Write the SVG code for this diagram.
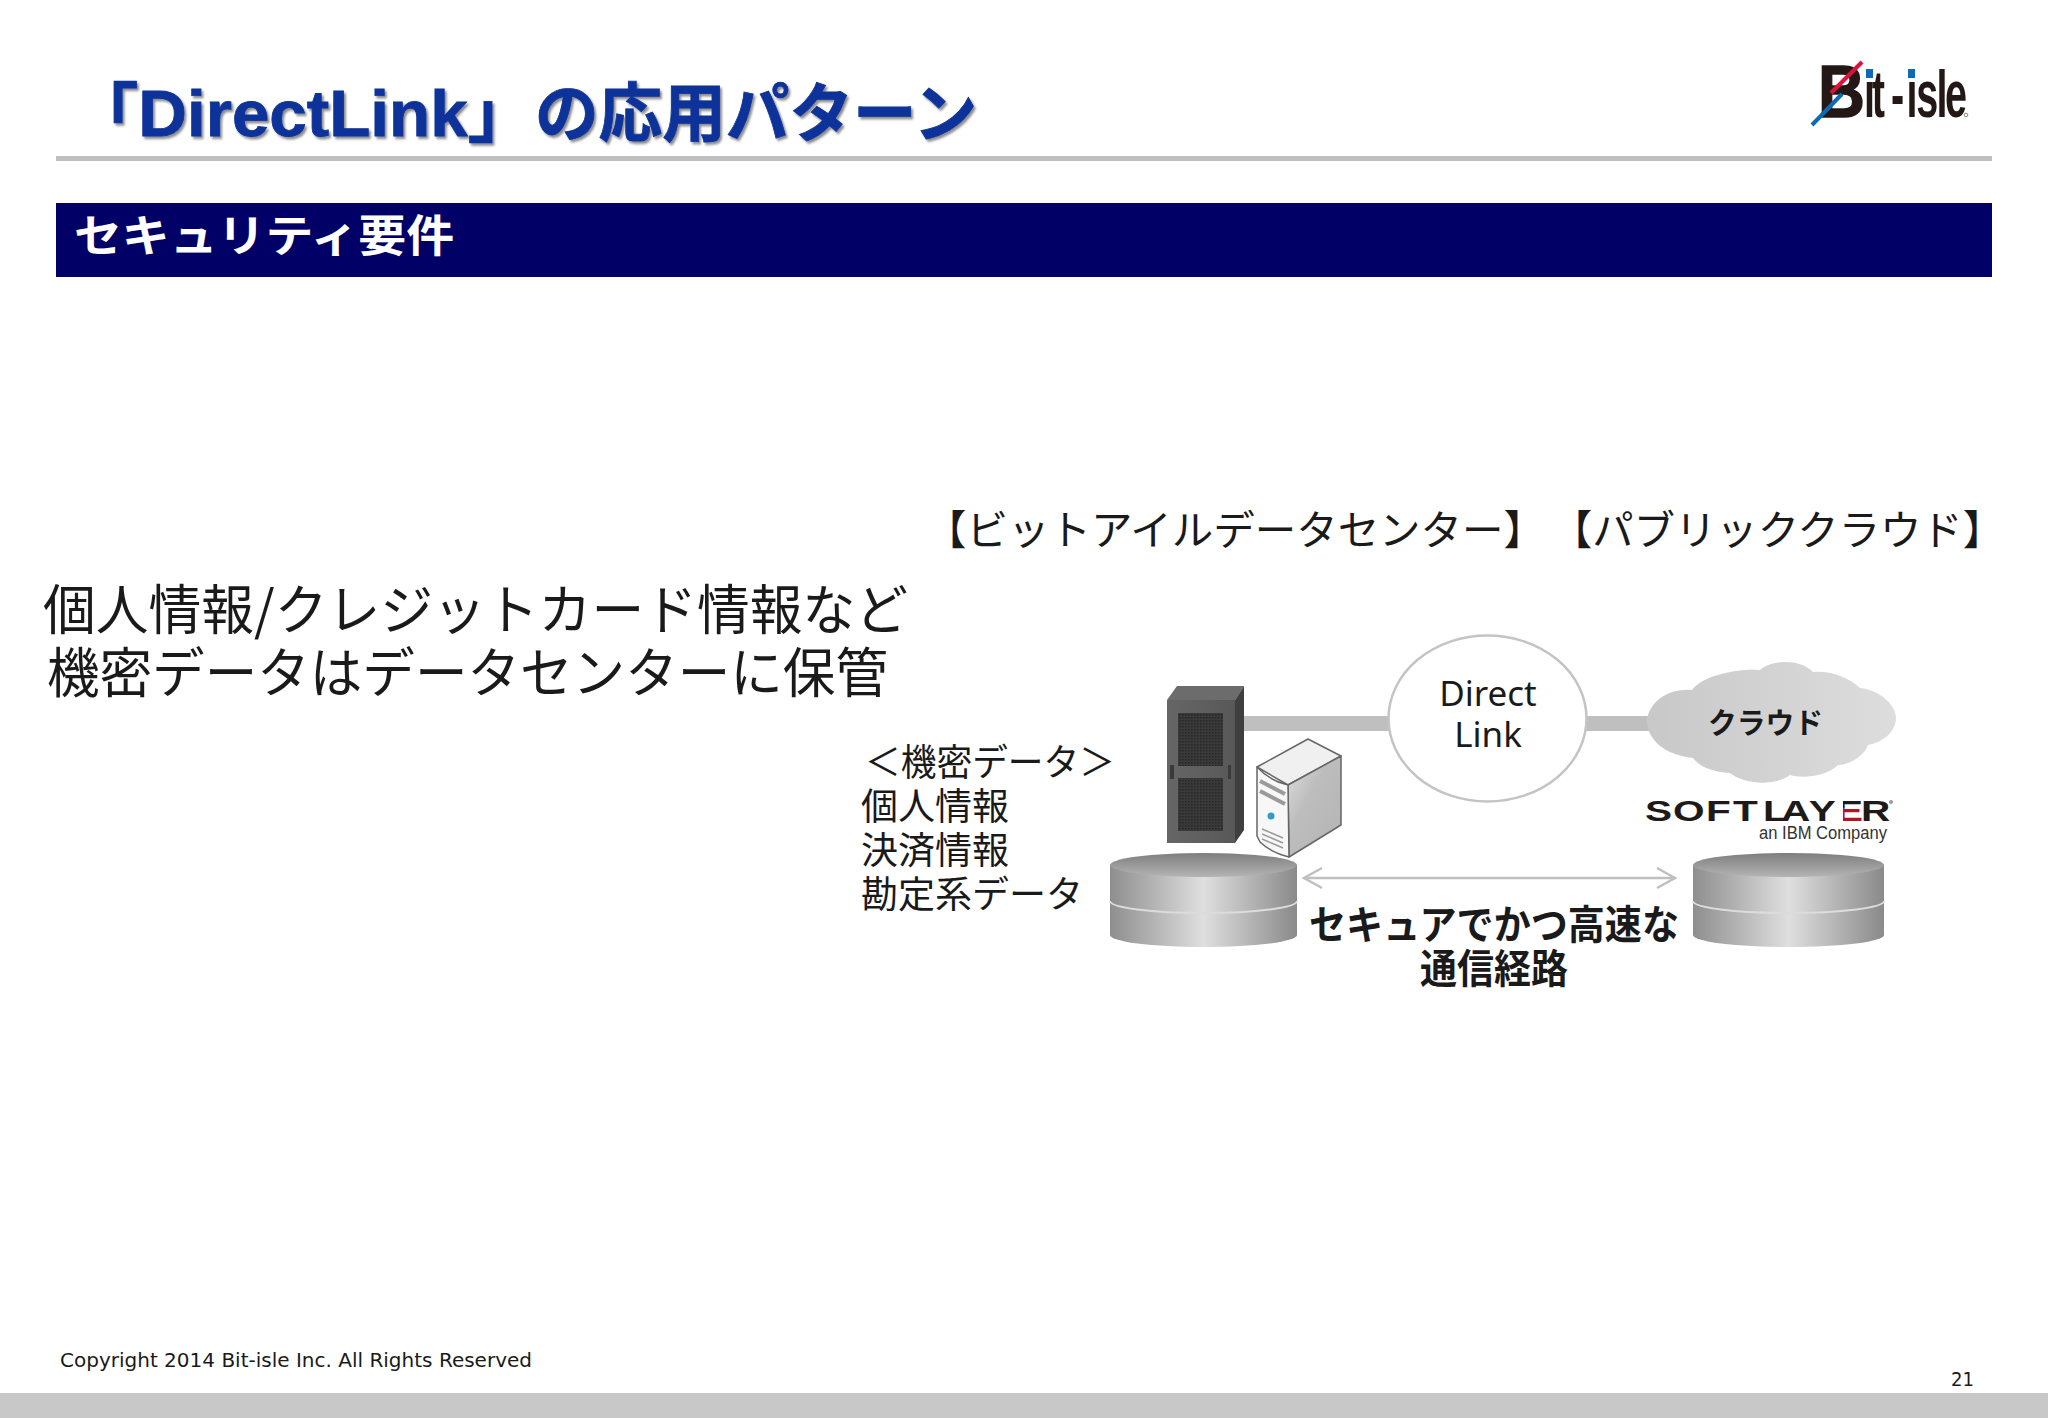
<svg xmlns="http://www.w3.org/2000/svg" width="2048" height="1418" viewBox="0 0 2048 1418">
<style>
.jp{font-family:"Noto Sans CJK JP",sans-serif;fill:#1a1a1a}
.b{font-weight:700}
.t36{font-size:37px}
.t40{font-size:41px}
.t54{font-size:54px}
.t41b{font-size:40px;font-weight:700}
.lat{font-family:"DejaVu Sans",sans-serif;fill:#1a1a1a}
.disktop{fill:url(#dtop)}
.diskbody{fill:url(#dbody)}
.diskline{fill:none;stroke:#dcdcdc;stroke-width:2}
.link{stroke:#bfbfbf;stroke-width:15;fill:none}
.arrow{stroke:#c0c0c0;stroke-width:2.5;fill:none;marker-start:url(#ah);marker-end:url(#ah)}
.vent{stroke:#9a9a9a;fill:none}
</style>
<defs>
<linearGradient id="dbody" x1="0" x2="1" y1="0" y2="0"><stop offset="0" stop-color="#8e8e8e"/><stop offset=".5" stop-color="#dfdfdf"/><stop offset="1" stop-color="#8a8a8a"/></linearGradient>
<linearGradient id="dtop" x1="0" x2="0" y1="0" y2="1"><stop offset="0" stop-color="#7e7e7e"/><stop offset="1" stop-color="#b4b4b4"/></linearGradient>
<linearGradient id="cloud" x1="0" x2="1" y1="0" y2="0"><stop offset="0" stop-color="#c8c8c8"/><stop offset="1" stop-color="#dddddd"/></linearGradient>
<linearGradient id="rackf" x1="0" x2="1" y1="0" y2="0"><stop offset="0" stop-color="#666666"/><stop offset="1" stop-color="#585858"/></linearGradient>
<linearGradient id="side" x1="0" x2="1" y1="0" y2="1"><stop offset="0" stop-color="#e0e0e0"/><stop offset=".4" stop-color="#bdbdbd"/><stop offset="1" stop-color="#b4b4b4"/></linearGradient>
<linearGradient id="ebar" x1="0" x2="0" y1="0" y2="1"><stop offset=".42" stop-color="#1f1a1a"/><stop offset=".43" stop-color="#b3141f"/></linearGradient>
<pattern id="mesh" width="3" height="3" patternUnits="userSpaceOnUse"><rect width="3" height="3" fill="#3a3a3a"/><rect width="1.5" height="1.5" fill="#262626"/></pattern>
<marker id="ah" markerUnits="userSpaceOnUse" markerWidth="24" markerHeight="26" refX="20" refY="12" orient="auto-start-reverse"><path d="M2 2 L20 12 L2 22" fill="none" stroke="#c0c0c0" stroke-width="2.5"/></marker>
<filter id="sh" x="-5%" y="-20%" width="110%" height="140%"><feDropShadow dx="2" dy="2.5" stdDeviation="1.2" flood-color="#000" flood-opacity=".45"/></filter>
</defs>
<rect width="2048" height="1418" fill="#ffffff"/>

<g id="header">
<text y="136" filter="url(#sh)" font-size="64" font-weight="700" fill="#0b3299" stroke="#0b3299" stroke-width=".8" font-family="'Liberation Sans','Noto Sans CJK JP',sans-serif"><tspan x="71" textLength="464" lengthAdjust="spacingAndGlyphs">「DirectLink」</tspan><tspan x="535" textLength="442" lengthAdjust="spacingAndGlyphs">の応用パターン</tspan></text>
<rect x="56" y="156" width="1936" height="5" fill="#bfbfbf"/>
</g>

<g id="logo">
<text x="1818" y="117" font-family="'Liberation Sans',sans-serif" font-weight="700" font-size="75" fill="#231815" stroke="#231815" stroke-width="1.500" textLength="47" lengthAdjust="spacingAndGlyphs">B</text>
<text transform="translate(1864 117) scale(.6 1)" x="0 13 45 71 87 121 135" y="0" font-family="'Liberation Sans',sans-serif" font-weight="700" font-size="66" fill="#231815">it-isle</text>
<line x1="1831" y1="93" x2="1862" y2="62" stroke="#d8143c" stroke-width="4"/>
<line x1="1842" y1="94" x2="1812" y2="125" stroke="#0b6bb5" stroke-width="4"/>
<rect x="1866" y="69" width="7" height="9" fill="#0b6bb5"/>
<rect x="1908" y="69" width="7" height="9" fill="#0b6bb5"/>
<circle cx="1966" cy="115" r="1.800" fill="none" stroke="#666" stroke-width=".8"/>
</g>

<g id="section-bar">
<rect x="56" y="203" width="1936" height="74" fill="#000066"/>
<text x="74" y="252" font-size="44" font-weight="700" fill="#ffffff" font-family="'Noto Sans CJK JP',sans-serif" textLength="380" lengthAdjust="spacingAndGlyphs">セキュリティ要件</text>
</g>

<g id="label-datacenter"><text class="jp t40" x="925" y="545" textLength="620" lengthAdjust="spacingAndGlyphs">【ビットアイルデータセンター】</text></g>
<g id="label-cloud"><text class="jp t40" x="1551" y="545" textLength="453" lengthAdjust="spacingAndGlyphs">【パブリッククラウド】</text></g>

<g id="main-text">
<text class="jp t54" x="43" y="630" textLength="865" lengthAdjust="spacingAndGlyphs">個人情報/クレジットカード情報など</text>
<text class="jp t54" x="47" y="693" textLength="841" lengthAdjust="spacingAndGlyphs">機密データはデータセンターに保管</text>
</g>

<g id="data-list">
<text class="jp t36" x="865" y="776" textLength="250" lengthAdjust="spacingAndGlyphs">＜機密データ＞</text>
<text class="jp t36" x="861" y="820" textLength="148" lengthAdjust="spacingAndGlyphs">個人情報</text>
<text class="jp t36" x="861" y="864" textLength="148" lengthAdjust="spacingAndGlyphs">決済情報</text>
<text class="jp t36" x="861" y="908" textLength="222" lengthAdjust="spacingAndGlyphs">勘定系データ</text>
</g>

<g id="connectors">
<line class="link" x1="1244" y1="723.500" x2="1390" y2="723.500"/>
<line class="link" x1="1585" y1="723.500" x2="1655" y2="723.500"/>
<line class="arrow" x1="1304" y1="878" x2="1675" y2="878"/>
</g>

<g id="rack">
<polygon points="1167,700 1177,686 1244,686 1235,700" fill="#6c6c6c"/>
<polygon points="1235,700 1244,686 1244,830 1235,843" fill="#3f3f3f"/>
<rect x="1167" y="700" width="68" height="143" fill="url(#rackf)"/>
<rect x="1178" y="713" width="45" height="53" fill="url(#mesh)"/>
<rect x="1178" y="778" width="45" height="53" fill="url(#mesh)"/>
<rect x="1170" y="765" width="4" height="14" fill="#3a3a3a"/>
<rect x="1228" y="765" width="3" height="14" fill="#3a3a3a"/>
</g>

<g id="server">
<polygon points="1308,739 1341,756 1288,785 1257,767" fill="#f0f0f0" stroke="#666" stroke-width="1.500" stroke-linejoin="round"/>
<polygon points="1341,756 1341,825 1289,857 1288,785" fill="url(#side)" stroke="#666" stroke-width="1.500" stroke-linejoin="round"/>
<path d="M1257 767 Q1270 781 1288 785 L1289 857 Q1270 852 1260 842 L1257 836Z" fill="#f7f7f7" stroke="#666" stroke-width="1.500" stroke-linejoin="round"/>
<path class="vent" d="M1260 781 L1285 794" stroke-width="4"/>
<path class="vent" d="M1260 791 L1285 804" stroke-width="4"/>
<path class="vent" d="M1262 829 L1283 838 M1262 834 L1283 843 M1262 839 L1283 848" stroke-width="1.500"/>
<circle cx="1271" cy="816" r="3.500" fill="#2f9bc9"/>
</g>

<g id="disk-left">
<path class="diskbody" d="M1110 865 V935 A93.500 12 0 0 0 1297 935 V865Z"/>
<path class="diskline" d="M1110 901 A93.500 12 0 0 0 1297 901"/>
<ellipse class="disktop" cx="1203.500" cy="865" rx="93.500" ry="12"/>
</g>

<g id="disk-right">
<path class="diskbody" d="M1693 865 V935 A95.500 12 0 0 0 1884 935 V865Z"/>
<path class="diskline" d="M1693 901 A95.500 12 0 0 0 1884 901"/>
<ellipse class="disktop" cx="1788.500" cy="865" rx="95.500" ry="12"/>
</g>

<g id="direct-link">
<ellipse cx="1487.500" cy="718.500" rx="99" ry="83" fill="#ffffff" stroke="#c4c4c4" stroke-width="2.500"/>
<text x="1488" y="706" text-anchor="middle" font-size="35" fill="#1a1a1a" font-family="'Noto Sans',sans-serif">Direct</text>
<text x="1488" y="747" text-anchor="middle" font-size="35" fill="#1a1a1a" font-family="'Noto Sans',sans-serif">Link</text>
</g>

<g id="cloud-node">
<path d="M1647 720 C1650 700 1670 688 1692 690 C1702 675 1740 668 1760 670 C1770 660 1800 658 1813 672 C1830 670 1850 678 1860 688 C1880 690 1896 705 1896 718 C1896 730 1885 742 1868 745 C1865 755 1850 765 1838 765 C1825 778 1800 778 1790 775 C1775 786 1745 785 1730 773 C1710 772 1698 765 1693 758 C1665 755 1647 740 1647 720Z" fill="url(#cloud)"/>
<text class="jp b" x="1708" y="734" font-size="29" textLength="115" lengthAdjust="spacingAndGlyphs">クラウド</text>
</g>

<g id="softlayer-logo">
<text transform="translate(1645 821) scale(1.4 1)" x="0 20 43.600 62.900 84.300 97.100 117 136.400 154.300" y="0" font-family="'Liberation Sans',sans-serif" font-weight="700" font-size="29" fill="#1f1a1a">SOFTLAY<tspan fill="url(#ebar)">E</tspan>R</text>
<rect x="1836" y="799" width="7" height="24" fill="#ffffff"/>
<circle cx="1891" cy="802" r="2" fill="#999"/>
<text x="1759" y="839" font-family="'Liberation Sans',sans-serif" font-size="17.500" fill="#333" textLength="128" lengthAdjust="spacingAndGlyphs">an IBM Company</text>
</g>

<g id="path-label">
<text class="jp t41b" x="1309" y="939" textLength="370" lengthAdjust="spacingAndGlyphs">セキュアでかつ高速な</text>
<text class="jp t41b" x="1420" y="983" textLength="148" lengthAdjust="spacingAndGlyphs">通信経路</text>
</g>

<g id="footer">
<text class="lat" x="60" y="1367" font-size="20" textLength="472" lengthAdjust="spacingAndGlyphs">Copyright 2014 Bit-isle Inc. All Rights Reserved</text>
<text class="lat" x="1951" y="1386" font-size="19" textLength="23" lengthAdjust="spacingAndGlyphs">21</text>
<rect x="0" y="1393" width="2048" height="25" fill="#c8c8c8"/>
</g>
</svg>
